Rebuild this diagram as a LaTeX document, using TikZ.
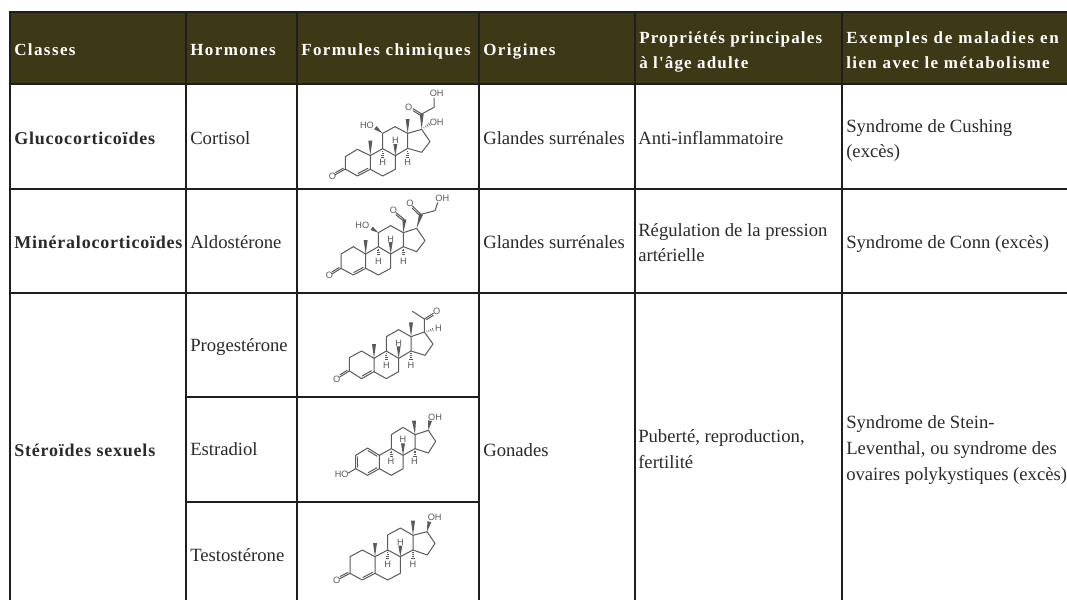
\documentclass[tikz,border=0pt]{standalone}
\usepackage{fontspec}
\setmainfont{Liberation Serif}
\newfontfamily\hdrfont[LetterSpace=8.3]{Liberation Serif}
\newfontfamily\hdrnarrow[LetterSpace=6.8]{Liberation Serif}
\newfontfamily\hdrwide[LetterSpace=9.8]{Liberation Serif}
\newfontfamily\clsfont[LetterSpace=4.4]{Liberation Serif}
\newfontfamily\atomfont{Liberation Sans}
\usetikzlibrary{calc}
\definecolor{headfill}{HTML}{3D3815}
\definecolor{rule}{HTML}{1E1E1E}
\definecolor{ink}{HTML}{2A2A2A}
\definecolor{mol}{HTML}{5A5A5A}
\tikzset{
  grid line/.style={draw=rule,line width=1.5pt},
  head/.style={anchor=base west,inner sep=0pt,text=white,font=\hdrfont\bfseries\fontsize{12.75}{15}\selectfont},
  head narrow/.style={head,font=\hdrnarrow\bfseries\fontsize{12.75}{15}\selectfont},
  head wide/.style={head,font=\hdrwide\bfseries\fontsize{12.75}{15}\selectfont},
  cls/.style={anchor=base west,inner sep=0pt,text=ink,font=\clsfont\bfseries\fontsize{13.5}{16}\selectfont},
  body/.style={anchor=base west,inner sep=0pt,text=ink,font=\fontsize{14}{16}\selectfont},
  atom/.style={inner sep=0pt,text=mol,font=\atomfont\fontsize{6.9}{8}\selectfont},
  bond/.style={draw=mol,line width=.75pt,line cap=round,line join=round},
  molscope/.style={x=.25pt,y=-.25pt},
}
\newcommand{\mwedge}[2]{\fill[mol] (#1) -- ($(#2)!1.5pt!90:(#1)$) -- ($(#2)!1.5pt!-90:(#1)$) -- cycle;}
\newcommand{\mhash}[2]{\foreach \t/\w in {.25/.45pt,.45/.75pt,.65/1.05pt,.85/1.35pt,1/1.6pt}{%
  \draw[mol,line width=.45pt] ($($(#1)!\t!(#2)$)!\w!90:(#2)$) -- ($($(#1)!\t!(#2)$)!\w!-90:(#2)$);}}
\newcommand{\mdbl}[3]{\draw[bond] ($($(#1)!.12!(#2)$)!#3!90:(#2)$) -- ($($(#1)!.88!(#2)$)!#3!90:(#2)$);}
\newcommand{\skeleton}{%
  \draw[bond] (c3)--(c2)--(c1)--(c10)--(c5)--(c4)--cycle;
  \draw[bond] (c10)--(c9)--(c8)--(c7)--(c6)--(c5);
  \draw[bond] (c9)--(c11)--(c12)--(c13)--(c14)--(c8);
  \draw[bond] (c13)--(c17)--(c16)--(c15)--(c14);
}
\newcommand{\setrings}[9]{%
  \coordinate (c3) at #1; \coordinate (c2) at #2; \coordinate (c1) at #3;
  \coordinate (c10) at #4; \coordinate (c5) at #5; \coordinate (c4) at #6;
  \coordinate (c9) at #7; \coordinate (c8) at #8; \coordinate (c7) at #9;}
\newcommand{\setringsb}[7]{%
  \coordinate (c6) at #1; \coordinate (c11) at #2; \coordinate (c12) at #3;
  \coordinate (c13) at #4; \coordinate (c14) at #5; \coordinate (c17) at #6;
  \coordinate (c16) at #7;}
\begin{document}
\begin{tikzpicture}[x=.75pt,y=-.75pt]
\useasboundingbox (0,0) rectangle (1067,600);
\fill[white] (0,0) rectangle (1067,600);
\fill[headfill] (10,12) rectangle (1067,84);
\draw[grid line] (9,12) -- (1067,12);
\draw[grid line] (10,84) -- (1067,84);
\draw[grid line] (10,188.7) -- (1067,188.7);
\draw[grid line] (10,293) -- (1067,293);
\draw[grid line] (186,396.6) -- (479,396.6);
\draw[grid line] (186,501.7) -- (479,501.7);
\foreach \xx in {10,186,297,479,635,842}{\draw[grid line] (\xx,12) -- (\xx,600);}
\node[head] (h1) at (14,55) {Classes};
\node[head] (h2) at (190,55) {Hormones};
\node[head] (h3) at (301,55) {Formules chimiques};
\node[head] (h4) at (483,55) {Origines};
\node[head narrow] (h5a) at (639,43) {Propriétés principales};
\node[head narrow] (h5b) at (639,68) {à l'âge adulte};
\node[head wide] (h6a) at (846,43) {Exemples de maladies en};
\node[head] (h6b) at (846,68) {lien avec le métabolisme};
\node[cls] (c1t) at (14,144) {Glucocorticoïdes};
\node[cls] (c2t) at (14,248) {Minéralocorticoïdes};
\node[cls] (c3t) at (14,456) {Stéroïdes sexuels};
\node[body] (ho1) at (190,144) {Cortisol};
\node[body] (ho2) at (190,248) {Aldostérone};
\node[body] (ho3) at (190,351) {Progestérone};
\node[body] (ho4) at (190,455) {Estradiol};
\node[body] (ho5) at (190,561) {Testostérone};
\node[body] (or1) at (483,144) {Glandes surrénales};
\node[body] (or2) at (483,248) {Glandes surrénales};
\node[body] (or3) at (483,456) {Gonades};
\node[body] (pr1) at (638,144) {Anti-inflammatoire};
\node[body] (pr2a) at (638,236) {Régulation de la pression};
\node[body] (pr2b) at (638,261) {artérielle};
\node[body] (pr3a) at (638,442) {Puberté, reproduction,};
\node[body] (pr3b) at (638,468) {fertilité};
\node[body] (ma1a) at (846,132) {Syndrome de Cushing};
\node[body] (ma1b) at (846,157) {(excès)};
\node[body] (ma2) at (846,248) {Syndrome de Conn (excès)};
\node[body] (ma3a) at (846,428) {Syndrome de Stein-};
\node[body] (ma3b) at (846,454) {Leventhal, ou syndrome des};
\node[body] (ma3c) at (846,480) {ovaires polykystiques (excès)};
% Cortisol
\begin{scope}[shift={(300,90)},molscope]
\setrings{(136,237)}{(136,200)}{(172,178)}{(211,197)}{(211,238)}{(172,258)}{(248,176)}{(286,197)}{(286,238)}
\setringsb{(248,258)}{(248,130)}{(285,110)}{(323,130)}{(323,175)}{(365,118)}{(390,155)}
\coordinate (c15) at (365,187);
\skeleton
\mdbl{c5}{c4}{-1.5pt}
\draw[bond] (c3)--(106,254); \mdbl{c3}{106,254}{-1.3pt}
\mwedge{c10}{211,152}\mwedge{c13}{323,87}
\mwedge{c11}{226,113}\mwedge{c8}{286,162}
\mhash{c9}{248,205}\mhash{c14}{323,205}\mhash{c17}{392,100}
\mwedge{c17}{365,72}
\draw[bond] (365,72)--(339,56); \mdbl{365,72}{339,56}{1.3pt}
\draw[bond] (365,72)--(402,52)--(402,24);
\node[atom] (m1o) at (97,260) {O};
\node[atom] (m1ho) at (201,107) {HO};
\node[atom] (m1h8) at (286,152) {H};
\node[atom] (m1h9) at (248,217) {H};
\node[atom] (m1h14) at (323,218) {H};
\node[atom] (m1oh) at (410,97) {OH};
\node[atom] (m1o2) at (326,53) {O};
\node[atom] (m1oh2) at (410,10) {OH};
\end{scope}
% Aldosterone
\begin{scope}[shift={(320,190)},molscope]
\setrings{(63,235)}{(63,192)}{(100,170)}{(137,192)}{(137,235)}{(100,255)}{(175,170)}{(212,192)}{(212,235)}
\setringsb{(175,255)}{(175,128)}{(212,107)}{(250,128)}{(250,170)}{(290,115)}{(315,152)}
\coordinate (c15) at (290,185);
\skeleton
\mdbl{c5}{c4}{-1.5pt}
\draw[bond] (c3)--(36,252); \mdbl{c3}{36,252}{-1.3pt}
\mwedge{c10}{137,150}\mwedge{c11}{155,115}\mwedge{c13}{253,88}\mwedge{c8}{212,156}
\mhash{c9}{175,197}\mhash{c14}{250,197}
\draw[bond] (253,88)--(228,68); \mdbl{253,88}{228,68}{1.3pt}
\mwedge{c17}{303,73}
\draw[bond] (303,73)--(277,48); \mdbl{303,73}{277,48}{1.3pt}
\draw[bond] (303,73)--(345,62)--(353,38);
\node[atom] (m2o) at (28,257) {O};
\node[atom] (m2ho) at (127,105) {HO};
\node[atom] (m2h8) at (212,147) {H};
\node[atom] (m2h9) at (175,215) {H};
\node[atom] (m2h14) at (250,215) {H};
\node[atom] (m2o2) at (220,62) {O};
\node[atom] (m2o3) at (270,40) {O};
\node[atom] (m2oh) at (367,25) {OH};
\end{scope}
% Progesterone
\begin{scope}[shift={(300,270)},molscope]
\setrings{(148,303)}{(148,263)}{(185,243)}{(222,265)}{(222,305)}{(185,326)}{(259,243)}{(296,265)}{(296,305)}
\setringsb{(259,326)}{(259,200)}{(296,179)}{(333,200)}{(333,243)}{(373,186)}{(399,222)}
\coordinate (c15) at (375,256);
\skeleton
\mdbl{c5}{c4}{-1.5pt}
\draw[bond] (c3)--(119,321); \mdbl{c3}{119,321}{-1.3pt}
\mwedge{c10}{222,222}\mwedge{c13}{333,157}\mwedge{c8}{296,229}
\mhash{c9}{259,272}\mhash{c14}{333,272}\mhash{c17}{403,178}
\draw[bond] (c17)--(373,147)--(337,124);
\draw[bond] (373,147)--(400,130); \mdbl{373,147}{400,130}{-1.3pt}
\node[atom] (m3o) at (110,328) {O};
\node[atom] (m3h8) at (296,220) {H};
\node[atom] (m3h9) at (259,287) {H};
\node[atom] (m3h14) at (333,287) {H};
\node[atom] (m3h17) at (415,176) {H};
\node[atom] (m3o2) at (410,124) {O};
\end{scope}
% Estradiol
\begin{scope}[shift={(320,398)},molscope]
\setrings{(107,212)}{(107,172)}{(143,150)}{(178,172)}{(178,212)}{(143,232)}{(214,152)}{(249,172)}{(249,212)}
\setringsb{(214,232)}{(214,110)}{(249,88)}{(285,110)}{(285,152)}{(325,97)}{(347,130)}
\coordinate (c15) at (325,165);
\skeleton
\mdbl{c3}{c2}{-1.5pt}\mdbl{c1}{c10}{-1.5pt}\mdbl{c5}{c4}{-1.5pt}
\draw[bond] (c3)--(85,225);
\mwedge{c13}{282,68}\mwedge{c17}{330,68}\mwedge{c8}{249,136}
\mhash{c9}{214,178}\mhash{c14}{285,178}
\node[atom] (m4ho) at (65,230) {HO};
\node[atom] (m4oh) at (345,57) {OH};
\node[atom] (m4h8) at (249,125) {H};
\node[atom] (m4h9) at (213,190) {H};
\node[atom] (m4h14) at (283,190) {H};
\end{scope}
% Testosterone
\begin{scope}[shift={(300,430)},molscope]
\setrings{(150,430)}{(150,380)}{(187,360)}{(225,380)}{(225,430)}{(187,450)}{(263,360)}{(301,380)}{(301,430)}
\setringsb{(263,450)}{(263,315)}{(301,294)}{(339,316)}{(339,360)}{(381,305)}{(405,340)}
\coordinate (c15) at (382,375);
\skeleton
\mdbl{c5}{c4}{-1.5pt}
\draw[bond] (c3)--(119,446); \mdbl{c3}{119,446}{-1.3pt}
\mwedge{c10}{225,339}\mwedge{c13}{339,272}\mwedge{c17}{388,275}\mwedge{c8}{301,347}
\mhash{c9}{263,388}\mhash{c14}{339,388}
\node[atom] (m5o) at (110,450) {O};
\node[atom] (m5oh) at (404,262) {OH};
\node[atom] (m5h8) at (301,338) {H};
\node[atom] (m5h9) at (263,404) {H};
\node[atom] (m5h14) at (339,404) {H};
\end{scope}
\end{tikzpicture}
\end{document}
